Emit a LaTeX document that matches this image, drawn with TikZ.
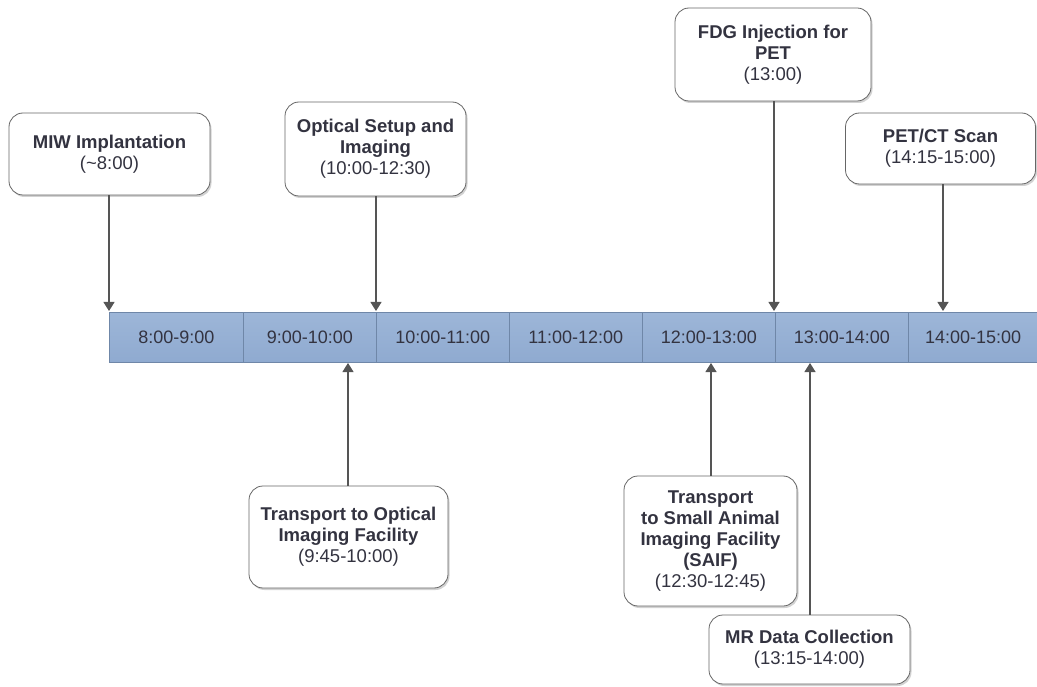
\documentclass[tikz,border=0pt]{standalone}
\usepackage{fontspec}
\setmainfont{Liberation Sans}
\usetikzlibrary{arrows.meta,shadows}
\definecolor{barblue}{HTML}{8FAAD0}
\definecolor{bartop}{HTML}{9DB6D8}
\definecolor{barline}{HTML}{6F87A8}
\definecolor{txt}{HTML}{333340}
\definecolor{arr}{HTML}{555555}
\tikzset{
  evbox/.style={draw=black!60, line width=0.8pt, fill=white, rounded corners=14pt, align=center, inner sep=2pt,
    text=txt, font=\fontsize{18.5}{21}\selectfont, drop shadow={shadow xshift=1.5pt, shadow yshift=-2pt, fill=black!35}},
  cell/.style={draw=barline, line width=0.6pt, top color=bartop, bottom color=barblue, minimum height=50, text=txt,
    font=\fontsize{18}{21}\selectfont, inner sep=0pt, anchor=north west},
  conn/.style={draw=arr, line width=1.2pt, -{Triangle[length=9pt,width=11pt]}}
}
\begin{document}
\begin{tikzpicture}[x=1pt,y=-1pt]
\useasboundingbox (0,0) rectangle (1037,687);
% timeline cells
\node[cell, minimum width=134] (c8) at (109,312) {8:00-9:00};
\node[cell, minimum width=133] (c9) at (243,312) {9:00-10:00};
\node[cell, minimum width=133] (c10) at (376,312) {10:00-11:00};
\node[cell, minimum width=133] (c11) at (509,312) {11:00-12:00};
\node[cell, minimum width=133] (c12) at (642,312) {12:00-13:00};
\node[cell, minimum width=133] (c13) at (775,312) {13:00-14:00};
\node[cell, minimum width=129.5] (c14) at (908,312) {14:00-15:00};
% top events
\node[evbox, minimum width=201, minimum height=82] (miw) at (109.5,154) {\textbf{MIW Implantation}\\(\textasciitilde8:00)};
\node[evbox, minimum width=181, minimum height=94] (opt) at (375.5,149) {\textbf{Optical Setup and}\\\textbf{Imaging}\\(10:00-12:30)};
\node[evbox, minimum width=196, minimum height=93] (fdg) at (773,54.5) {\textbf{FDG Injection for}\\\textbf{PET}\\(13:00)};
\node[evbox, minimum width=190, minimum height=71] (pet) at (940.5,148.5) {\textbf{PET/CT Scan}\\(14:15-15:00)};
% bottom events
\node[evbox, minimum width=199, minimum height=102] (tro) at (348.5,537) {\textbf{Transport to Optical}\\\textbf{Imaging Facility}\\(9:45-10:00)};
\node[evbox, minimum width=173, minimum height=130] (saif) at (710.5,541) {\textbf{Transport}\\\textbf{to Small Animal}\\\textbf{Imaging Facility}\\\textbf{(SAIF)}\\(12:30-12:45)};
\node[evbox, minimum width=201, minimum height=69] (mr) at (809.5,649.5) {\textbf{MR Data Collection}\\(13:15-14:00)};
% connectors
\coordinate (t8) at (109,311);
\coordinate (t10) at (376,311);
\coordinate (t13) at (774,311);
\coordinate (t14) at (943,311);
\coordinate (b9) at (348,363);
\coordinate (b12) at (711,363);
\coordinate (b13) at (810,363);
\draw[conn] (miw.south -| t8) -- (t8);
\draw[conn] (opt.south -| t10) -- (t10);
\draw[conn] (fdg.south -| t13) -- (t13);
\draw[conn] (pet.south -| t14) -- (t14);
\draw[conn] (tro.north -| b9) -- (b9);
\draw[conn] (saif.north -| b12) -- (b12);
\draw[conn] (mr.north -| b13) -- (b13);
\end{tikzpicture}
\end{document}
